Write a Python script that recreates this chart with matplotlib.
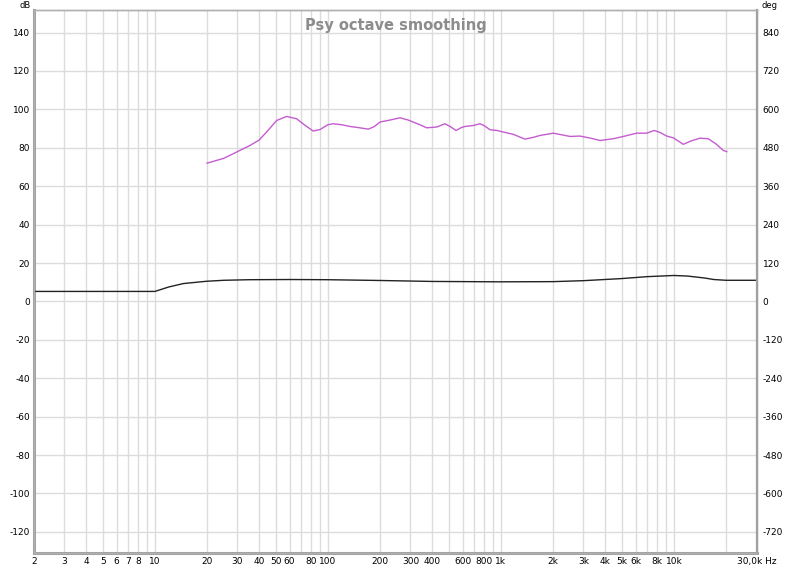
import matplotlib
matplotlib.use("Agg")
import matplotlib.pyplot as plt
from matplotlib.ticker import NullFormatter

plt.rcParams["axes.unicode_minus"] = False

# magenta trace (Hz, dB)
mag_freq = [20, 25, 29.7, 35.4, 40, 45, 50.5, 57.7, 65.9, 73, 82.2, 90, 100, 107, 120,
            134, 150, 171, 185, 200, 230, 261, 290, 311, 340, 372, 425, 474, 510, 550,
            590, 619, 692, 757, 800, 864, 950, 1031, 1178, 1377, 1550, 1680, 2009, 2507,
            2864, 3300, 3736, 4460, 5093, 6086, 6950, 7690, 8300, 9070, 9910, 11320,
            12500, 14130, 15800, 17500, 19300, 20200]
mag_db = [72.0, 74.5, 77.8, 81.2, 84.0, 89.0, 94.2, 96.3, 95.1, 92.0, 88.7, 89.5, 92.0,
          92.5, 92.0, 91.1, 90.5, 89.7, 91.0, 93.4, 94.5, 95.6, 94.5, 93.4, 92.0, 90.4,
          90.8, 92.5, 91.0, 89.0, 90.5, 91.1, 91.6, 92.5, 91.5, 89.4, 89.0, 88.2, 87.0,
          84.5, 85.5, 86.4, 87.6, 85.9, 86.1, 85.0, 83.8, 84.7, 85.9, 87.6, 87.6, 89.0,
          88.0, 86.1, 85.2, 81.8, 83.5, 85.0, 84.7, 82.0, 78.6, 78.0]

# black trace (Hz, dB)
blk_freq = [2, 10, 12, 14.6, 19.9, 25, 35, 60, 100, 200, 400, 1000, 2000, 3000, 5000,
            7000, 10000, 12000, 15000, 17000, 20000, 30000]
blk_db = [5.2, 5.2, 7.5, 9.3, 10.5, 11.0, 11.3, 11.4, 11.3, 10.9, 10.4, 10.2, 10.3,
          10.8, 11.9, 12.9, 13.5, 13.2, 12.2, 11.4, 11.0, 11.0]

xtick_vals = [2, 3, 4, 5, 6, 7, 8, 10, 20, 30, 40, 50, 60, 80, 100, 200, 300, 400, 600,
              800, 1000, 2000, 3000, 4000, 5000, 6000, 8000, 10000, 30000]
xtick_labels = ["2", "3", "4", "5", "6", "7", "8", "10", "20", "30", "40", "50", "60",
                "80", "100", "200", "300", "400", "600", "800", "1k", "2k", "3k", "4k",
                "5k", "6k", "8k", "10k", "30,0k Hz"]
ydb_ticks = list(range(-120, 141, 20))
ydeg_ticks = list(range(-720, 841, 120))

grid_x = [m * 10 ** e for e in range(0, 5) for m in range(1, 10)]
grid_x = [g for g in grid_x if 2 <= g <= 20000]

fig = plt.figure(figsize=(8, 5.68), dpi=100)
ax = fig.add_axes([34 / 800, 15 / 568, 723 / 800, 543.5 / 568])

ax.set_xscale("log")
ax.set_xlim(2, 30200)
ax.set_ylim(-131, 152)

for g in grid_x:
    ax.axvline(g, color="#dcdcdc", lw=1.0, zorder=0)
for t in ydb_ticks:
    ax.axhline(t, color="#dcdcdc", lw=1.0, zorder=0)

ax.plot(blk_freq, blk_db, color="#222222", lw=1.0, zorder=3)
ax.plot(mag_freq, mag_db, color="#c45ccf", lw=1.0, zorder=3)

ax.set_xticks(xtick_vals)
ax.set_xticklabels(xtick_labels)
ax.xaxis.set_minor_formatter(NullFormatter())
ax.tick_params(axis="x", which="both", length=0, pad=3, labelsize=6.5)
ax.set_yticks(ydb_ticks)
ax.tick_params(axis="y", length=0, pad=3, labelsize=6.5)

ax2 = ax.twinx()
ax2.set_ylim(-131 * 6, 152 * 6)
ax2.set_yticks(ydeg_ticks)
ax2.tick_params(axis="y", length=0, pad=4, labelsize=6.5)

for a in (ax, ax2):
    for s in a.spines.values():
        s.set_color("#b0b0b0")
        s.set_linewidth(1.0)
ax.spines["left"].set_linewidth(2.2)
ax.spines["bottom"].set_linewidth(2.2)
ax2.spines["right"].set_linewidth(1.6)
ax.spines["left"].set_color("#a0a0a0")
ax.spines["bottom"].set_color("#a0a0a0")
ax2.spines["right"].set_color("#a0a0a0")

ax.text(0.5, 0.985, "Psy octave smoothing", transform=ax.transAxes, ha="center",
        va="top", fontsize=10.5, fontweight="bold", color="#8c8c8c")
fig.text(25 / 800, 1 - 5 / 568, "dB", ha="center", va="center", fontsize=6)
fig.text(770 / 800, 1 - 5 / 568, "deg", ha="center", va="center", fontsize=6)

fig.savefig("out.png", dpi=100)
